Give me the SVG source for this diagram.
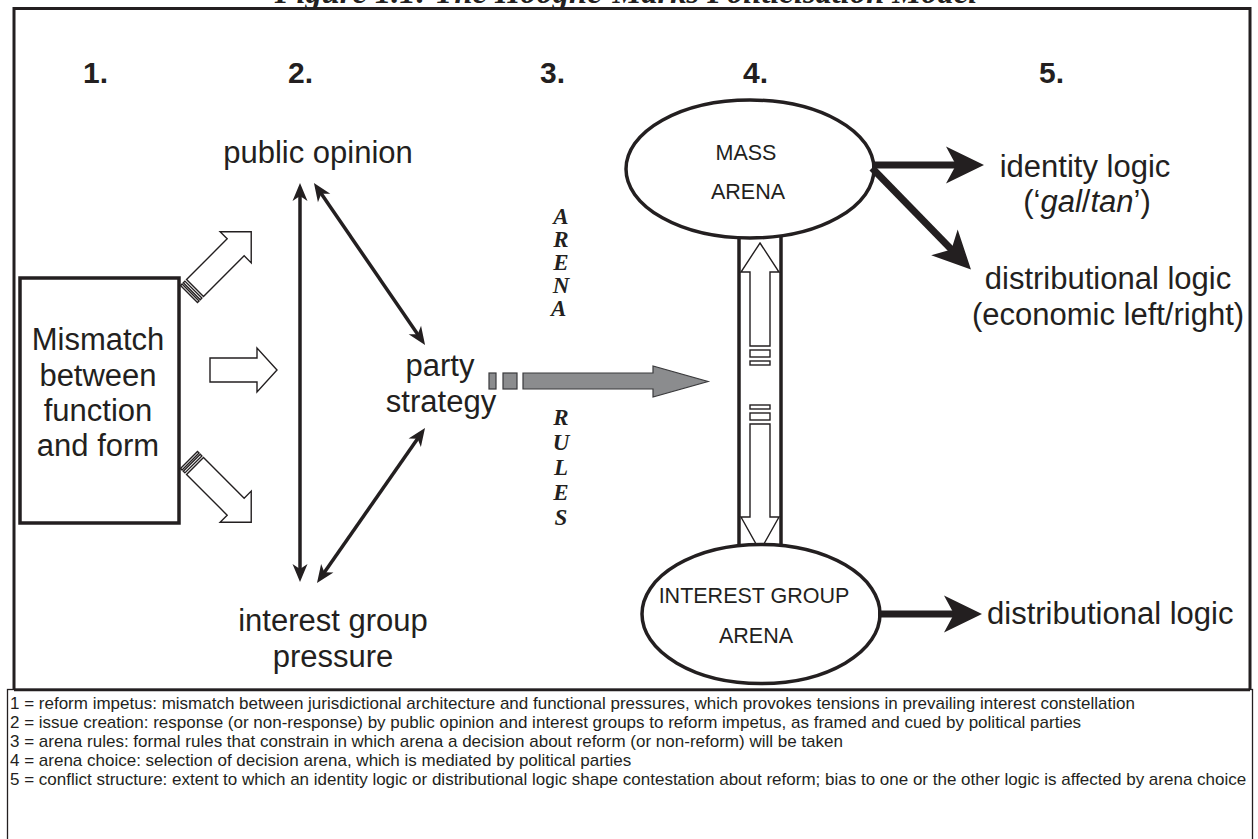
<svg xmlns="http://www.w3.org/2000/svg" width="1258" height="839" viewBox="0 0 1258 839">
<style>
 .lbl{font-family:"Liberation Sans",Arial,sans-serif;font-size:31px;fill:#231f20}
 .num{font-family:"Liberation Sans",Arial,sans-serif;font-size:30px;font-weight:bold;fill:#231f20}
 .arena{font-family:"Liberation Sans",Arial,sans-serif;font-size:21.5px;fill:#231f20}
 .rules{font-family:"Liberation Serif","Times New Roman",serif;font-size:23px;font-weight:bold;font-style:italic;fill:#231f20}
 .leg{font-family:"Liberation Sans",Arial,sans-serif;font-size:17px;fill:#231f20}
 .title{font-family:"Liberation Serif","Times New Roman",serif;font-size:32.5px;font-weight:bold;font-style:italic;fill:#231f20}
 .open{fill:#fff;stroke:#231f20;stroke-width:1.4;stroke-linejoin:miter}
 .ln{stroke:#231f20;stroke-width:3.5;fill:none}
 .thick{stroke:#231f20;stroke-width:7;fill:none}
 .ell{fill:#fff;stroke:#231f20;stroke-width:3.5}
 .frame{fill:none;stroke:#231f20;stroke-width:3}
 .legbox{fill:#fff;stroke:#231f20;stroke-width:1.3}
 .gray{fill:#8b8c8e;stroke:#3a3a3c;stroke-width:1.2}
</style>
<defs>
 <marker id="ah" markerUnits="userSpaceOnUse" viewBox="-10 -10 22 20" refX="0" refY="0" markerWidth="22" markerHeight="20" orient="auto-start-reverse">
  <path d="M10,0 L-8,-7.5 L-3,0 L-8,7.5 Z" fill="#231f20"/>
 </marker>
 <marker id="big" markerUnits="userSpaceOnUse" viewBox="-20 -20 42 40" refX="0" refY="0" markerWidth="42" markerHeight="40" orient="auto">
  <path d="M20,0 L-18,-18.5 L-8,0 L-18,18.5 Z" fill="#231f20"/>
 </marker>
 <g id="stripedArrow">
  <rect class="open" x="0" y="-12" width="2.2" height="24"/>
  <rect class="open" x="4" y="-12" width="2.2" height="24"/>
  <path class="open" d="M8.5,-12 L66,-12 L66,-22 L88,0 L66,22 L66,12 L8.5,12 Z"/>
 </g>
</defs>

<rect width="1258" height="839" fill="#fff"/>

<text class="title" x="626" y="3" text-anchor="middle">Figure 1.1: The Hooghe-Marks Politicisation Model</text>

<rect id="frame" class="frame" x="14" y="8.5" width="1236" height="681.5"/>

<g id="step-numbers">
 <text class="num" x="83" y="83">1.</text>
 <text class="num" x="288" y="83">2.</text>
 <text class="num" x="540" y="83">3.</text>
 <text class="num" x="743" y="83">4.</text>
 <text class="num" x="1039" y="83">5.</text>
</g>

<g id="mismatch">
 <rect x="20" y="278" width="159" height="245" fill="#fff" stroke="#231f20" stroke-width="3.5"/>
 <text class="lbl" text-anchor="middle"><tspan x="98" y="350">Mismatch</tspan><tspan x="98" y="386">between</tspan><tspan x="98" y="421">function</tspan><tspan x="98" y="456">and form</tspan></text>
</g>

<g id="public-opinion">
 <text class="lbl" x="318" y="163" text-anchor="middle">public opinion</text>
</g>

<g id="interest-group-pressure">
 <text class="lbl" text-anchor="middle"><tspan x="333" y="631">interest group</tspan><tspan x="333" y="667">pressure</tspan></text>
</g>

<g id="party-strategy">
 <text class="lbl" text-anchor="middle"><tspan x="440" y="376">party</tspan><tspan x="441" y="412">strategy</tspan></text>
</g>

<g id="arena-rules">
 <text class="rules" text-anchor="middle">
  <tspan x="561" y="224">A</tspan><tspan x="561" y="247">R</tspan><tspan x="561" y="270">E</tspan><tspan x="561" y="293">N</tspan><tspan x="561" y="316">A</tspan>
  <tspan x="561" y="425">R</tspan><tspan x="561" y="450">U</tspan><tspan x="561" y="475">L</tspan><tspan x="561" y="500">E</tspan><tspan x="561" y="525">S</tspan>
 </text>
</g>

<g id="arena-link">
 <line class="ln" x1="739" y1="228" x2="739" y2="560"/>
 <line class="ln" x1="781" y1="228" x2="781" y2="560"/>
 <path class="open" d="M760,243 L779,272 L770,272 L770,346 L750,346 L750,272 L741,272 Z"/>
 <rect class="open" x="750" y="350" width="20" height="7"/>
 <rect class="open" x="750" y="361" width="20" height="4"/>
 <rect class="open" x="750" y="405" width="20" height="4"/>
 <rect class="open" x="750" y="413" width="20" height="7"/>
 <path class="open" d="M750,424 L770,424 L770,517 L779,517 L760,551 L741,517 L750,517 Z"/>
</g>

<g id="mass-arena">
 <ellipse class="ell" cx="750" cy="169" rx="124" ry="69"/>
 <text class="arena" text-anchor="middle"><tspan x="746" y="160">MASS</tspan><tspan x="748" y="199">ARENA</tspan></text>
</g>

<g id="interest-group-arena">
 <ellipse class="ell" cx="761" cy="614" rx="119" ry="69.5"/>
 <text class="arena" text-anchor="middle"><tspan x="754" y="603">INTEREST GROUP</tspan><tspan x="756" y="643">ARENA</tspan></text>
</g>

<g id="identity-logic">
 <text class="lbl" text-anchor="middle"><tspan x="1085" y="177">identity logic</tspan><tspan x="1087" y="212">(‘<tspan font-style="italic">gal</tspan>/<tspan font-style="italic">tan</tspan>’)</tspan></text>
</g>

<g id="distributional-logic-mass">
 <text class="lbl" text-anchor="middle"><tspan x="1108" y="289">distributional logic</tspan><tspan x="1108" y="325">(economic left/right)</tspan></text>
</g>

<g id="distributional-logic-interest">
 <text class="lbl" x="987" y="624">distributional logic</text>
</g>

<g id="connectors">
 <use href="#stripedArrow" transform="translate(189,294) rotate(-45)"/>
 <path class="open" d="M210,358 L257,358 L257,348 L277,370 L257,392 L257,382 L210,382 Z"/>
 <use href="#stripedArrow" transform="translate(189,460) rotate(45)"/>
 <line class="ln" x1="300" y1="193" x2="300" y2="572" marker-start="url(#ah)" marker-end="url(#ah)"/>
 <line class="ln" x1="319.6" y1="191.3" x2="419.4" y2="336.7" marker-start="url(#ah)" marker-end="url(#ah)"/>
 <line class="ln" x1="419.3" y1="436.2" x2="322.7" y2="574.8" marker-start="url(#ah)" marker-end="url(#ah)"/>
 <rect class="gray" x="489" y="373" width="7" height="16"/>
 <rect class="gray" x="503" y="373" width="14" height="16"/>
 <path class="gray" d="M523,373 L653,373 L653,366 L708,381.5 L653,397 L653,389 L523,389 Z"/>
 <line class="thick" x1="872" y1="165" x2="964" y2="165" marker-end="url(#big)"/>
 <line class="thick" x1="872" y1="168" x2="957" y2="255.2" marker-end="url(#big)"/>
 <line class="thick" x1="878" y1="614" x2="962" y2="614" marker-end="url(#big)"/>
</g>

<g id="legend">
 <rect class="legbox" x="7.5" y="689.5" width="1245" height="160"/>
 <line x1="14" y1="690" x2="1250" y2="690" stroke="#231f20" stroke-width="2.5"/>
 <text class="leg" x="10" y="709">1 = reform impetus: mismatch between jurisdictional architecture and functional pressures, which provokes tensions in prevailing interest constellation</text>
 <text class="leg" x="10" y="728">2 = issue creation: response (or non-response) by public opinion and interest groups to reform impetus, as framed and cued by political parties</text>
 <text class="leg" x="10" y="747">3 = arena rules: formal rules that constrain in which arena a decision about reform (or non-reform) will be taken</text>
 <text class="leg" x="10" y="766">4 = arena choice: selection of decision arena, which is mediated by political parties</text>
 <text class="leg" x="10" y="785">5 = conflict structure: extent to which an identity logic or distributional logic shape contestation about reform; bias to one or the other logic is affected by arena choice</text>
</g>
</svg>
